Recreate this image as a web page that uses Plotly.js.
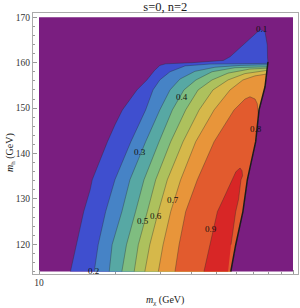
<!DOCTYPE html>
<html>
<head>
<meta charset="utf-8">
<script src="https://cdn.plot.ly/plotly-3.0.1.min.js"></script>
<style>html,body{margin:0;padding:0;background:#fff;}#chart{width:300px;height:308px;}</style>
</head>
<body>
<div id="chart"></div>
<script>
// ---- data (m_chi in GeV, m_h in GeV) ----
const levels = [0.1, 0.2, 0.3, 0.4, 0.5, 0.6, 0.7, 0.8, 0.9];

// kinematic cutoff edge (right boundary of the filled area)
const cutX = [56.9, 59.5, 63.5, 66.1, 71.3, 73.5, 77.6, 79.7];
const cutY = [114, 119.9, 127.2, 134.2, 142.6, 149.6, 154.7, 160.2];

// contour lines, from the bottom edge up to the cutoff
const c01x = [13.3, 14.0, 14.2, 15.0, 15.9, 16.2, 18.6, 19.9, 21.3, 24.3, 26.6, 28.5, 29.9, 31.5, 40.0, 53.2, 56.5, 63.7, 69.8, 74.2, 77.6, 79.2, 79.4, 79.7];
const c01y = [114, 119.9, 121.0, 127.2, 132.0, 134.2, 142.6, 146.3, 149.6, 154.0, 156.2, 158.3, 159.4, 159.75, 160.0, 160.5, 161.3, 163.9, 166.1, 167.3, 166.8, 163.9, 161.0, 160.2];
const c02x = [16.5, 17.1, 18.3, 19.9, 23.0, 26.3, 28.1, 29.9, 32.8, 37.6, 47.1, 79.57];
const c02y = [114, 119.9, 127.2, 134.2, 142.6, 149.6, 154.0, 156.2, 158.0, 159.3, 159.7, 159.85];
const c03x = [18.9, 19.4, 21.2, 22.8, 26.3, 29.9, 32.8, 35.9, 41.1, 49.3, 61.9, 79.45];
const c03y = [114, 119.9, 127.2, 134.2, 142.6, 149.6, 154.0, 156.4, 158.1, 159.0, 159.4, 159.55];
const c04x = [21.2, 22.1, 24.0, 25.9, 29.7, 33.5, 37.2, 41.5, 48.0, 59.1, 79.3];
const c04y = [114, 119.9, 127.2, 134.2, 142.6, 149.6, 154.0, 156.2, 158.0, 158.9, 159.1];
const c05x = [23.7, 24.6, 26.7, 28.8, 33.0, 37.8, 42.3, 48.0, 55.5, 67.7, 79.2];
const c05y = [114, 119.9, 127.2, 134.2, 142.6, 149.6, 154.0, 156.2, 157.7, 158.6, 158.8];
const c06x = [26.1, 27.3, 29.5, 32.0, 36.9, 42.7, 48.4, 55.5, 64.7, 75.5, 79.0];
const c06y = [114, 119.9, 127.2, 134.2, 142.6, 149.6, 154.0, 156.2, 157.6, 158.2, 158.3];
const c07x = [29.5, 30.8, 33.0, 36.1, 41.4, 48.9, 56.5, 63.5, 70.9, 76.9, 78.7];
const c07y = [114, 119.9, 127.2, 134.2, 142.6, 149.6, 154.0, 156.2, 157.1, 157.4, 157.5];
const c08x = [34.3, 35.6, 37.8, 42.0, 48.9, 58.6, 62.4, 64.7, 67.7, 70.9, 72.3, 73.1];
const c08y = [114, 119.9, 127.2, 134.2, 142.6, 149.6, 151.1, 152.0, 152.5, 152.0, 151.0, 148.5];
// closed island of the 0.9 level
const c09x = [44.6, 47.0, 50.4, 53.0, 55.3, 57.7, 59.6, 61.9, 63.0, 63.3, 62.4, 61.0, 59.5, 57.0, 55.5];
const c09y = [114, 119.9, 127.2, 129.8, 132.0, 134.2, 136.0, 136.8, 136.2, 135.1, 134.2, 129.8, 127.2, 119.9, 114];

const domainX = [10, 100];
const domainY = [114, 170];
const xTickVals = [10, 100];
const xTickText = ['10', '100'];
const xMinorVals = [20, 30, 40, 50, 60, 70, 80, 90];
const yTickVals = [120, 130, 140, 150, 160, 170];

// ---- styles ----
const bgColor = '#7a1e80';
const bandColors = ['#3f4fcf', '#4683c6', '#57a8a4', '#7fbd80', '#adc15d', '#d6b84a', '#e8953a', '#e25b2e', '#d82626'];
const serif = 'Liberation Serif, Times New Roman, serif';
const xRange = [0.97638, 2.01969];
const yRange = [113.45, 170.95];

const contours = [[c01x, c01y], [c02x, c02y], [c03x, c03y], [c04x, c04y], [c05x, c05y], [c06x, c06y], [c07x, c07y], [c08x, c08y]];

function region(cx, cy) {
  const xs = cx.slice(), ys = cy.slice();
  const endY = cy[cy.length - 1];
  for (let i = cutX.length - 1; i >= 0; i--) {
    if (cutY[i] < endY - 0.05) { xs.push(cutX[i]); ys.push(cutY[i]); }
  }
  return [xs, ys];
}

const traces = [];
contours.forEach((c, i) => {
  const [xs, ys] = region(c[0], c[1]);
  traces.push({x: xs, y: ys, type: 'scatter', mode: 'lines', fill: 'toself',
    fillcolor: bandColors[i], line: {width: 0, color: bandColors[i]}, hoverinfo: 'skip'});
});
traces.push({x: c09x, y: c09y, type: 'scatter', mode: 'lines', fill: 'toself',
  fillcolor: bandColors[8], line: {width: 0, color: bandColors[8]}, hoverinfo: 'skip'});
// contour lines
contours.forEach((c) => {
  traces.push({x: c[0], y: c[1], type: 'scatter', mode: 'lines',
    line: {width: 0.7, color: 'rgba(40,40,40,0.5)'}, hoverinfo: 'skip'});
});
traces.push({x: c09x.slice(0, -1), y: c09y.slice(0, -1), type: 'scatter', mode: 'lines',
  line: {width: 0.7, color: 'rgba(40,40,40,0.5)'}, hoverinfo: 'skip'});
// cutoff edge
traces.push({x: cutX, y: cutY, type: 'scatter', mode: 'lines',
  line: {width: 1.5, color: '#1c1c1c'}, hoverinfo: 'skip'});

const labelPos = [[74.9, 167.4], [16.4, 114.2], [25.0, 140.4], [36.7, 152.5], [25.7, 125.2], [28.9, 126.3], [33.8, 129.8], [71.2, 145.5], [47.6, 123.4]];
const annotations = levels.map((lv, i) => ({
  x: Math.log10(labelPos[i][0]), y: labelPos[i][1], xref: 'x', yref: 'y',
  text: lv.toFixed(1), showarrow: false, font: {family: serif, size: 9, color: '#111'},
  xanchor: 'center', yanchor: 'middle'
}));
annotations.push({xref: 'paper', yref: 'paper', x: 0.499, y: -0.102, xanchor: 'center', yanchor: 'middle',
  text: '<i>m</i><sub>χ</sub> (GeV)', showarrow: false, font: {family: serif, size: 10, color: '#222'}});
annotations.push({xref: 'paper', yref: 'paper', x: -0.087, y: 0.467, xanchor: 'center', yanchor: 'middle',
  text: '<i>m</i><sub>h</sub> (GeV)', textangle: -90, showarrow: false, font: {family: serif, size: 10, color: '#222'}});

const layout = {
  width: 300, height: 308,
  margin: {l: 33, r: 2, t: 13, b: 34, pad: 0},
  paper_bgcolor: '#ffffff', plot_bgcolor: '#ffffff',
  showlegend: false,
  title: {text: 's=0, n=2', font: {family: serif, size: 12.5, color: '#1a1a1a'},
    xref: 'container', x: 0.551, xanchor: 'center', yref: 'container', y: 0.977, yanchor: 'middle'},
  xaxis: {type: 'log', range: xRange, tickmode: 'array', tickvals: xTickVals, ticktext: xTickText,
    ticks: 'inside', ticklen: 4, tickcolor: '#999', tickwidth: 1,
    showline: true, linecolor: '#aaa', linewidth: 1, mirror: true, showgrid: false, zeroline: false,
    tickfont: {family: serif, size: 9.5, color: '#333'},
    minor: {tickmode: 'array', tickvals: xMinorVals, ticks: 'inside', ticklen: 2, tickcolor: '#999', showgrid: false},
    fixedrange: true},
  yaxis: {range: yRange, tickmode: 'array', tickvals: yTickVals,
    ticks: 'inside', ticklen: 4, tickcolor: '#999', tickwidth: 1,
    showline: true, linecolor: '#aaa', linewidth: 1, mirror: true, showgrid: false, zeroline: false,
    tickfont: {family: serif, size: 9.5, color: '#333'},
    minor: {tickmode: 'linear', tick0: 114, dtick: 2, ticks: 'inside', ticklen: 2, tickcolor: '#999', showgrid: false},
    fixedrange: true},
  shapes: [
    {type: 'rect', xref: 'x', yref: 'y', layer: 'below',
      x0: domainX[0], x1: domainX[1], y0: domainY[0], y1: domainY[1],
      fillcolor: bgColor, line: {width: 0}}
  ],
  annotations: annotations
};

Plotly.newPlot('chart', traces, layout, {displayModeBar: false, staticPlot: true});
</script>
</body>
</html>
